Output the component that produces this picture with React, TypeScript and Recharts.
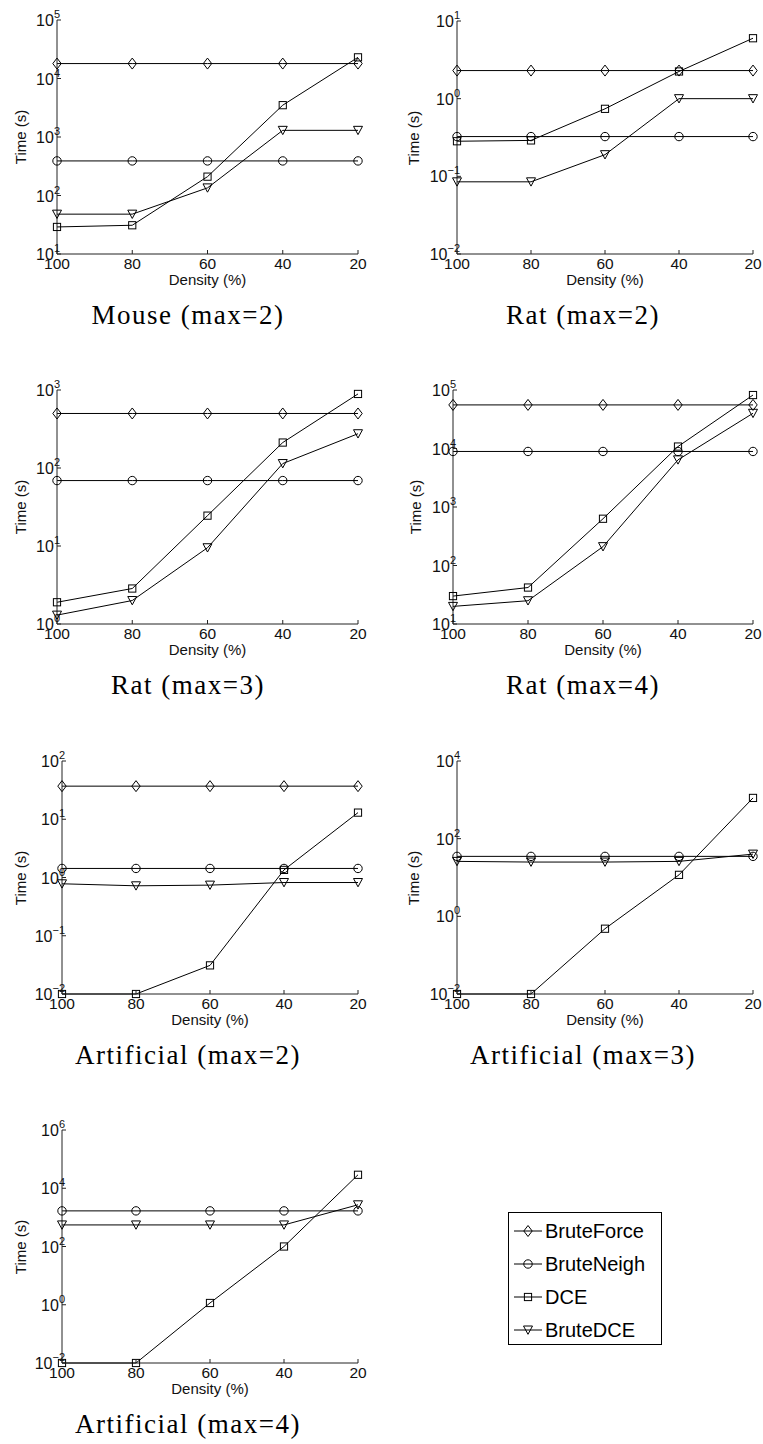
import { LineChart, Line, XAxis, YAxis } from "recharts";

const densities = [100, 80, 60, 40, 20];
const seriesNames = ["BruteForce", "BruteNeigh", "DCE", "BruteDCE"];

// Mouse (max=2)
const mouse2BruteForce = [18000, 18000, 18000, 18000, 18000];
const mouse2BruteNeigh = [390, 390, 390, 390, 390];
const mouse2DCE = [29, 31, 210, 3500, 23000];
const mouse2BruteDCE = [48, 48, 135, 1300, 1300];

// Rat (max=2)
const rat2BruteForce = [2.3, 2.3, 2.3, 2.3, 2.3];
const rat2BruteNeigh = [0.325, 0.325, 0.325, 0.325, 0.325];
const rat2DCE = [0.283, 0.29, 0.74, 2.24, 6.0];
const rat2BruteDCE = [0.085, 0.085, 0.19, 1.0, 1.0];

// Rat (max=3)
const rat3BruteForce = [500, 500, 500, 500, 500];
const rat3BruteNeigh = [69, 69, 69, 69, 69];
const rat3DCE = [1.9, 2.85, 24.5, 212, 890];
const rat3BruteDCE = [1.3, 2.0, 9.5, 114, 275];

// Rat (max=4)
const rat4BruteForce = [55600, 55600, 55600, 55600, 55600];
const rat4BruteNeigh = [8900, 8900, 8900, 8900, 8900];
const rat4DCE = [30, 42, 630, 10800, 82000];
const rat4BruteDCE = [20, 25, 210, 6400, 40000];

// Artificial (max=2)
const art2BruteForce = [37, 37, 37, 37, 37];
const art2BruteNeigh = [1.43, 1.43, 1.43, 1.43, 1.43];
const art2DCE = [0.01, 0.01, 0.031, 1.35, 13];
const art2BruteDCE = [0.78, 0.72, 0.74, 0.82, 0.82];

// Artificial (max=3) - no BruteForce run
const art3BruteNeigh = [35, 35, 35, 35, 35];
const art3DCE = [0.01, 0.01, 0.48, 11.7, 1120];
const art3BruteDCE = [26, 25, 25, 26, 40];

// Artificial (max=4) - no BruteForce run
const art4BruteNeigh = [1670, 1670, 1670, 1670, 1670];
const art4DCE = [0.01, 0.01, 1.15, 100, 29000];
const art4BruteDCE = [550, 550, 550, 550, 2700];

const shapes: Record<string, string> = {
  BruteForce: "diamond",
  BruteNeigh: "circle",
  DCE: "square",
  BruteDCE: "triangle",
};

function Marker({ cx, cy, shape }: any) {
  if (cx == null || cy == null || isNaN(cx) || isNaN(cy)) return null;
  const st = { fill: "none", stroke: "#000", strokeWidth: 1 };
  if (shape === "diamond")
    return <path d={`M${cx},${cy - 5.5}L${cx + 4.2},${cy}L${cx},${cy + 5.5}L${cx - 4.2},${cy}Z`} {...st} />;
  if (shape === "circle") return <circle cx={cx} cy={cy} r={4.2} {...st} />;
  if (shape === "square") return <rect x={cx - 3.6} y={cy - 3.6} width={7.2} height={7.2} {...st} />;
  return <path d={`M${cx - 4.5},${cy - 4}L${cx + 4.5},${cy - 4}L${cx},${cy + 4.3}Z`} {...st} />;
}

function XTick({ x, y, payload }: any) {
  return (
    <g>
      <line x1={x} y1={y} x2={x} y2={y - 4} stroke="#222" />
      <text x={x} y={y + 15} textAnchor="middle" fontSize={15.5} fontFamily="Liberation Sans, Arial" fill="#111">
        {payload.value}
      </text>
    </g>
  );
}

function YTick({ x, y, payload }: any) {
  const exp = Math.round(Math.log10(payload.value));
  const label = exp < 0 ? `\u2212${-exp}` : `${exp}`;
  return (
    <g>
      <line x1={x} y1={y} x2={x + 4} y2={y} stroke="#222" />
      <text x={x + 3} y={y + 6} textAnchor="end" fontSize={16} fontFamily="Liberation Sans, Arial" fill="#111">
        <tspan>10</tspan>
        <tspan dy={-8} fontSize={11}>{label}</tspan>
      </text>
    </g>
  );
}

interface Panel {
  title: string;
  series: Record<string, number[] | undefined>;
  yMin: number;
  yMax: number;
  yTicks: number[];
  col: number;
  plotLeft: number;
  plotRight: number;
  plotTop: number;
  plotBottom: number;
  ylabelX: number;
}

const panels: Panel[] = [
  {
    title: "Mouse (max=2)",
    series: { BruteForce: mouse2BruteForce, BruteNeigh: mouse2BruteNeigh, DCE: mouse2DCE, BruteDCE: mouse2BruteDCE },
    yMin: 1e1, yMax: 1e5, yTicks: [1e1, 1e2, 1e3, 1e4, 1e5],
    col: 0, plotLeft: 57, plotRight: 358, plotTop: 20, plotBottom: 254, ylabelX: 20,
  },
  {
    title: "Rat (max=2)",
    series: { BruteForce: rat2BruteForce, BruteNeigh: rat2BruteNeigh, DCE: rat2DCE, BruteDCE: rat2BruteDCE },
    yMin: 1e-2, yMax: 1e1, yTicks: [1e-2, 1e-1, 1e0, 1e1],
    col: 1, plotLeft: 457, plotRight: 753, plotTop: 21, plotBottom: 254, ylabelX: 413,
  },
  {
    title: "Rat (max=3)",
    series: { BruteForce: rat3BruteForce, BruteNeigh: rat3BruteNeigh, DCE: rat3DCE, BruteDCE: rat3BruteDCE },
    yMin: 1e0, yMax: 1e3, yTicks: [1e0, 1e1, 1e2, 1e3],
    col: 0, plotLeft: 57, plotRight: 358, plotTop: 390, plotBottom: 624, ylabelX: 20,
  },
  {
    title: "Rat (max=4)",
    series: { BruteForce: rat4BruteForce, BruteNeigh: rat4BruteNeigh, DCE: rat4DCE, BruteDCE: rat4BruteDCE },
    yMin: 1e1, yMax: 1e5, yTicks: [1e1, 1e2, 1e3, 1e4, 1e5],
    col: 1, plotLeft: 453, plotRight: 753, plotTop: 390, plotBottom: 624, ylabelX: 415,
  },
  {
    title: "Artificial (max=2)",
    series: { BruteForce: art2BruteForce, BruteNeigh: art2BruteNeigh, DCE: art2DCE, BruteDCE: art2BruteDCE },
    yMin: 1e-2, yMax: 1e2, yTicks: [1e-2, 1e-1, 1e0, 1e1, 1e2],
    col: 0, plotLeft: 62, plotRight: 358, plotTop: 761, plotBottom: 994, ylabelX: 20,
  },
  {
    title: "Artificial (max=3)",
    series: { BruteNeigh: art3BruteNeigh, DCE: art3DCE, BruteDCE: art3BruteDCE },
    yMin: 1e-2, yMax: 1e4, yTicks: [1e-2, 1e0, 1e2, 1e4],
    col: 1, plotLeft: 457, plotRight: 753, plotTop: 761, plotBottom: 994, ylabelX: 413,
  },
  {
    title: "Artificial (max=4)",
    series: { BruteNeigh: art4BruteNeigh, DCE: art4DCE, BruteDCE: art4BruteDCE },
    yMin: 1e-2, yMax: 1e6, yTicks: [1e-2, 1e0, 1e2, 1e4, 1e6],
    col: 0, plotLeft: 62, plotRight: 358, plotTop: 1130, plotBottom: 1363, ylabelX: 20,
  },
];

const sans = "Liberation Sans, Arial, sans-serif";

function PanelChart({ p }: { p: Panel }) {
  const left = p.col === 0 ? 0 : 380;
  const width = p.col === 0 ? 380 : 383;
  const top = p.plotTop - 15;
  const xAxisH = 30;
  const height = p.plotBottom - top + xAxisH;
  const data = densities.map((d, i) => {
    const row: Record<string, number> = { density: d };
    seriesNames.forEach((s) => {
      const arr = p.series[s];
      if (arr) row[s] = arr[i];
    });
    return row;
  });
  const titleX = p.col === 0 ? 188 : 583;
  const plotMid = (p.plotLeft + p.plotRight) / 2;
  return (
    <>
      <div style={{ position: "absolute", left, top }}>
        <LineChart
          width={width}
          height={height}
          data={data}
          margin={{ top: 15, right: left + width - p.plotRight, bottom: 0, left: 0 }}
        >
          <XAxis
            type="number"
            dataKey="density"
            domain={[20, 100]}
            reversed
            ticks={densities}
            tick={<XTick />}
            tickSize={0}
            tickMargin={0}
            tickLine={false}
            height={xAxisH}
            axisLine={{ stroke: "#222" }}
          />
          <YAxis
            type="number"
            scale="log"
            domain={[p.yMin, p.yMax]}
            ticks={p.yTicks}
            tick={<YTick />}
            tickSize={0}
            tickMargin={0}
            tickLine={false}
            width={p.plotLeft - left}
            axisLine={{ stroke: "#222" }}
            interval={0}
          />
          {seriesNames
            .filter((s) => p.series[s])
            .map((s) => (
              <Line
                key={s}
                dataKey={s}
                stroke="#000"
                strokeWidth={1}
                isAnimationActive={false}
                activeDot={false}
                dot={(props: any) => <Marker key={`${s}-${props.index}`} {...props} shape={shapes[s]} />}
              />
            ))}
        </LineChart>
      </div>
      <div
        style={{
          position: "absolute", left: p.ylabelX, top: (p.plotTop + p.plotBottom) / 2,
          transform: "translate(-50%, -50%) rotate(-90deg)", fontFamily: sans, fontSize: 15,
          whiteSpace: "nowrap", color: "#111",
        }}
      >
        Time (s)
      </div>
      <div
        style={{
          position: "absolute", left: plotMid, top: p.plotBottom + 25,
          transform: "translate(-50%, -50%)", fontFamily: sans, fontSize: 15, whiteSpace: "nowrap", color: "#111",
        }}
      >
        Density (%)
      </div>
      <div
        style={{
          position: "absolute", left: titleX, top: p.plotBottom + 61,
          transform: "translate(-50%, -50%)", fontFamily: "Liberation Serif, serif", fontSize: 27,
          letterSpacing: 1.5, whiteSpace: "nowrap", color: "#000",
        }}
      >
        {p.title}
      </div>
    </>
  );
}

function LegendBox() {
  const rows = [1231, 1264, 1297, 1330];
  return (
    <svg style={{ position: "absolute", left: 0, top: 0 }} width={763} height={1444}>
      <rect x={508.5} y={1212.5} width={153} height={132} fill="#fff" stroke="#000" strokeWidth={1} />
      {seriesNames.map((s, i) => (
        <g key={s}>
          <line x1={514} y1={rows[i]} x2={542} y2={rows[i]} stroke="#000" />
          <Marker cx={528} cy={rows[i]} shape={shapes[s]} />
          <text x={545} y={rows[i] + 7} fontSize={20} fontFamily={sans} fill="#000">
            {s}
          </text>
        </g>
      ))}
    </svg>
  );
}

export default function App() {
  return (
    <div style={{ position: "absolute", left: 0, top: 0, width: 763, height: 1444, background: "#fff" }}>
      <LegendBox />
      {panels.map((p) => (
        <PanelChart key={p.title} p={p} />
      ))}
    </div>
  );
}
